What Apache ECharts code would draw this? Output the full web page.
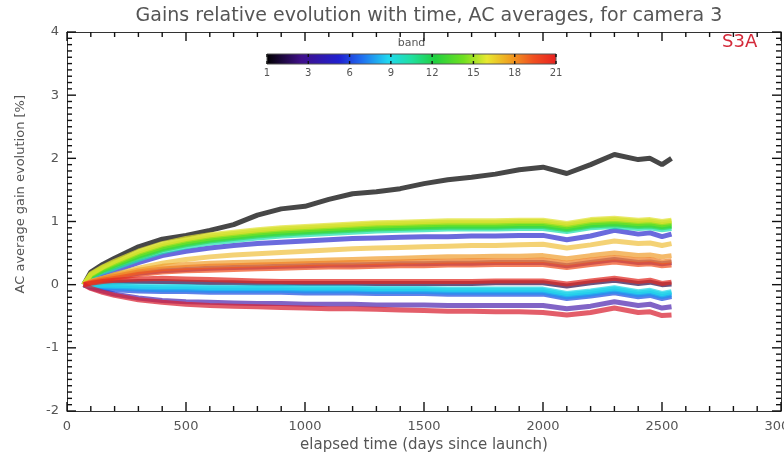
<!DOCTYPE html>
<html>
<head>
<meta charset="utf-8">
<script src="https://cdn.jsdelivr.net/npm/echarts@6/dist/echarts.min.js"></script>
<style>
  html, body { margin: 0; padding: 0; background: #fff; }
  #main { width: 784px; height: 459px; }
</style>
</head>
<body>
<div id="main"></div>
<script>
// elapsed days of the sampled points
var days = [70, 100, 150, 200, 300, 400, 500, 600, 700, 800, 900, 1000, 1100, 1200, 1300, 1400, 1500, 1600, 1700, 1800, 1900, 2000, 2100, 2200, 2300, 2400, 2450, 2500, 2540];

// gain evolution [%], one array per band
var b01 = [0, 0.2, 0.32, 0.42, 0.6, 0.72, 0.78, 0.86, 0.95, 1.1, 1.2, 1.24, 1.35, 1.44, 1.47, 1.52, 1.6, 1.66, 1.7, 1.75, 1.82, 1.86, 1.76, 1.9, 2.06, 1.98, 2.0, 1.9, 2.0];
var b02 = [0, 0.01, 0.03, 0.04, 0.05, 0.05, 0.04, 0.03, 0.03, 0.02, 0.02, 0.02, 0.02, 0.02, 0.02, 0.02, 0.02, 0.02, 0.02, 0.03, 0.03, 0.03, -0.02, 0.03, 0.07, 0.02, 0.04, 0.0, 0.01];
var b03 = [0, 0.04, 0.08, 0.12, 0.18, 0.22, 0.24, 0.26, 0.27, 0.28, 0.29, 0.3, 0.31, 0.31, 0.32, 0.33, 0.33, 0.34, 0.34, 0.35, 0.35, 0.35, 0.3, 0.35, 0.4, 0.35, 0.36, 0.33, 0.35];
var b04 = [0, -0.05, -0.1, -0.15, -0.21, -0.25, -0.27, -0.28, -0.29, -0.3, -0.3, -0.31, -0.31, -0.31, -0.32, -0.32, -0.32, -0.33, -0.33, -0.33, -0.33, -0.33, -0.38, -0.34, -0.27, -0.33, -0.31, -0.37, -0.35];
var b05 = [0, 0.06, 0.14, 0.22, 0.35, 0.46, 0.53, 0.58, 0.62, 0.65, 0.67, 0.69, 0.71, 0.73, 0.74, 0.75, 0.76, 0.76, 0.77, 0.77, 0.78, 0.78, 0.71, 0.77, 0.86, 0.8, 0.82, 0.76, 0.8];
var b06 = [0, -0.03, -0.06, -0.08, -0.1, -0.11, -0.11, -0.12, -0.12, -0.12, -0.12, -0.13, -0.13, -0.13, -0.14, -0.14, -0.14, -0.15, -0.15, -0.15, -0.15, -0.15, -0.22, -0.18, -0.13, -0.19, -0.17, -0.22, -0.19];
var b07 = [0, -0.02, -0.04, -0.05, -0.07, -0.08, -0.08, -0.09, -0.09, -0.09, -0.09, -0.1, -0.1, -0.1, -0.11, -0.11, -0.11, -0.12, -0.12, -0.12, -0.12, -0.12, -0.19, -0.15, -0.1, -0.16, -0.14, -0.19, -0.16];
var b08 = [0, -0.01, -0.02, -0.03, -0.04, -0.05, -0.05, -0.06, -0.06, -0.06, -0.06, -0.07, -0.07, -0.07, -0.08, -0.08, -0.08, -0.09, -0.09, -0.09, -0.09, -0.09, -0.16, -0.12, -0.07, -0.13, -0.11, -0.16, -0.13];
var b09 = [0, 0.0, -0.01, -0.01, -0.02, -0.03, -0.03, -0.04, -0.04, -0.04, -0.04, -0.05, -0.05, -0.05, -0.06, -0.06, -0.06, -0.07, -0.07, -0.07, -0.07, -0.07, -0.14, -0.1, -0.05, -0.11, -0.09, -0.14, -0.11];
var b10 = [0, 0.12, 0.2, 0.26, 0.4, 0.52, 0.6, 0.66, 0.7, 0.74, 0.77, 0.79, 0.81, 0.83, 0.85, 0.86, 0.87, 0.88, 0.88, 0.88, 0.89, 0.89, 0.84, 0.9, 0.92, 0.89, 0.9, 0.87, 0.89];
var b11 = [0, 0.13, 0.22, 0.29, 0.43, 0.55, 0.63, 0.69, 0.73, 0.77, 0.8, 0.82, 0.84, 0.86, 0.88, 0.89, 0.9, 0.91, 0.91, 0.91, 0.92, 0.92, 0.87, 0.93, 0.95, 0.92, 0.93, 0.9, 0.92];
var b12 = [0, 0.14, 0.23, 0.31, 0.45, 0.57, 0.65, 0.71, 0.75, 0.79, 0.82, 0.84, 0.86, 0.88, 0.9, 0.91, 0.92, 0.93, 0.93, 0.93, 0.94, 0.94, 0.89, 0.95, 0.97, 0.94, 0.95, 0.92, 0.94];
var b13 = [0, 0.15, 0.25, 0.33, 0.48, 0.6, 0.68, 0.74, 0.78, 0.82, 0.85, 0.87, 0.89, 0.91, 0.93, 0.94, 0.95, 0.96, 0.96, 0.96, 0.97, 0.97, 0.92, 0.98, 1.0, 0.97, 0.98, 0.95, 0.97];
var b14 = [0, 0.16, 0.27, 0.35, 0.51, 0.63, 0.71, 0.77, 0.81, 0.85, 0.88, 0.9, 0.92, 0.94, 0.96, 0.97, 0.98, 0.99, 0.99, 0.99, 1.0, 1.0, 0.95, 1.01, 1.03, 1.0, 1.01, 0.98, 1.0];
var b15 = [0, 0.17, 0.28, 0.37, 0.53, 0.65, 0.73, 0.79, 0.83, 0.87, 0.9, 0.92, 0.94, 0.96, 0.98, 0.99, 1.0, 1.01, 1.01, 1.01, 1.02, 1.02, 0.97, 1.03, 1.05, 1.02, 1.03, 1.0, 1.02];
var b16 = [0, 0.05, 0.1, 0.16, 0.26, 0.34, 0.4, 0.44, 0.47, 0.49, 0.51, 0.53, 0.55, 0.57, 0.58, 0.59, 0.6, 0.61, 0.62, 0.62, 0.63, 0.64, 0.58, 0.63, 0.69, 0.65, 0.66, 0.62, 0.65];
var b17 = [0, 0.05, 0.1, 0.15, 0.23, 0.29, 0.32, 0.34, 0.35, 0.36, 0.37, 0.38, 0.39, 0.4, 0.41, 0.42, 0.43, 0.44, 0.44, 0.45, 0.45, 0.46, 0.41, 0.46, 0.5, 0.46, 0.47, 0.44, 0.46];
var b18 = [0, 0.04, 0.09, 0.13, 0.2, 0.25, 0.27, 0.29, 0.3, 0.31, 0.32, 0.33, 0.34, 0.35, 0.35, 0.36, 0.37, 0.37, 0.38, 0.38, 0.38, 0.39, 0.34, 0.39, 0.43, 0.39, 0.4, 0.36, 0.38];
var b19 = [0, 0.03, 0.07, 0.1, 0.16, 0.2, 0.22, 0.23, 0.24, 0.25, 0.26, 0.27, 0.28, 0.28, 0.29, 0.3, 0.3, 0.31, 0.31, 0.32, 0.32, 0.32, 0.27, 0.32, 0.36, 0.32, 0.33, 0.3, 0.31];
var b20 = [0, 0.02, 0.05, 0.07, 0.09, 0.1, 0.09, 0.08, 0.07, 0.06, 0.05, 0.05, 0.05, 0.05, 0.05, 0.05, 0.05, 0.05, 0.05, 0.06, 0.06, 0.06, 0.01, 0.06, 0.1, 0.05, 0.07, 0.02, 0.04];
var b21 = [0, -0.06, -0.12, -0.17, -0.24, -0.28, -0.31, -0.33, -0.34, -0.35, -0.36, -0.37, -0.38, -0.38, -0.39, -0.4, -0.41, -0.42, -0.42, -0.43, -0.43, -0.44, -0.48, -0.44, -0.37, -0.44, -0.43, -0.49, -0.48];

var bands = [b01, b02, b03, b04, b05, b06, b07, b08, b09, b10, b11, b12, b13, b14, b15, b16, b17, b18, b19, b20, b21];

// colour bar tick labels
var cbLabels = ['1', '3', '6', '9', '12', '15', '18', '21'];

var bandColors = ['#000000', '#32104e', '#5a1a9a', '#5028b0', '#3030d0', '#2050e0', '#2090f0', '#20c0f0', '#20d8e8', '#20e0b0',
    '#30d860', '#40d830', '#70e020', '#b0e020', '#e0e030', '#f0c040', '#f0a030', '#f08028', '#f05020', '#e02820', '#d82030'];

var chart = echarts.init(document.getElementById('main'), null, {renderer: 'canvas'});

var textCol = '#555';
var axisCol = '#111';
var font = 'DejaVu Sans';

var series = [];
for (var i = 0; i < bands.length; i++) {
    var pts = [];
    for (var j = 0; j < days.length; j++) {
        pts.push([days[j], bands[i][j]]);
    }
    series.push({
        name: 'band ' + (i + 1),
        type: 'line',
        xAxisIndex: 0,
        yAxisIndex: 0,
        data: pts,
        showSymbol: false,
        color: bandColors[i],
        lineStyle: {width: 5, opacity: 0.72},
        z: 3
    });
}

// tick values of the box: majors every 500 days / 1 %, minors every 100 days / 0.1 %
var xTickVals = [];
for (var t = 0; t <= 3000; t += 100) xTickVals.push([t, 0]);
var yTickVals = [];
for (var k = -20; k <= 40; k++) yTickVals.push([0, k / 10]);
var cbTickVals = [];
for (var c = 0; c <= 7; c++) cbTickVals.push([c, 0.5]);

function seg(x1, y1, x2, y2) {
    return {type: 'line', shape: {x1: x1, y1: y1, x2: x2, y2: y2},
        style: {stroke: axisCol, lineWidth: 1.4, fill: null}};
}

// inward ticks on all four sides, placed through the axis scales
series.push({
    name: 'xticks', type: 'custom', coordinateSystem: 'cartesian2d',
    xAxisIndex: 0, yAxisIndex: 0, silent: true, clip: false, z: 10,
    encode: {x: 0, y: 1},
    data: xTickVals,
    renderItem: function (params, api) {
        var v = api.value(0);
        var len = v % 500 === 0 ? 9 : 5;
        var b = api.coord([v, -2]);
        var top = api.coord([v, 4]);
        return {type: 'group', children: [seg(b[0], b[1], b[0], b[1] - len), seg(top[0], top[1], top[0], top[1] + len)]};
    }
});
series.push({
    name: 'yticks', type: 'custom', coordinateSystem: 'cartesian2d',
    xAxisIndex: 0, yAxisIndex: 0, silent: true, clip: false, z: 10,
    encode: {x: 0, y: 1},
    data: yTickVals,
    renderItem: function (params, api) {
        var v = api.value(1);
        var len = Math.abs(v - Math.round(v)) < 1e-6 ? 9 : 5;
        var l = api.coord([0, v]);
        var r = api.coord([3000, v]);
        return {type: 'group', children: [seg(l[0], l[1], l[0] + len, l[1]), seg(r[0], r[1], r[0] - len, r[1])]};
    }
});
series.push({
    name: 'cbticks', type: 'custom', coordinateSystem: 'cartesian2d',
    xAxisIndex: 2, yAxisIndex: 3, silent: true, clip: false, z: 10,
    encode: {x: 0, y: 1},
    data: cbTickVals,
    renderItem: function (params, api) {
        var v = api.value(0);
        var b = api.coord([v, 0]);
        var top = api.coord([v, 1]);
        return {type: 'group', children: [seg(b[0], b[1], b[0], b[1] - 3), seg(top[0], top[1], top[0], top[1] + 3)]};
    }
});

var option = {
    animation: false,
    backgroundColor: '#fff',
    title: {
        text: 'Gains relative evolution with time, AC averages, for camera 3',
        left: 424,
        top: 2,
        textAlign: 'center',
        textStyle: {fontFamily: font, fontSize: 19, fontWeight: 'normal', color: textCol}
    },
    grid: [
        {left: 67, right: 3, top: 32, bottom: 48, show: false, outerBoundsMode: 'none', containLabel: false},
        {
            left: 267, top: 54, width: 289, height: 10, show: true, borderColor: '#555', borderWidth: 1,
            outerBoundsMode: 'none', containLabel: false,
            backgroundColor: new echarts.graphic.LinearGradient(0, 0, 1, 0, [
                {offset: 0, color: '#000000'},
                {offset: 0.12, color: '#40108a'},
                {offset: 0.25, color: '#2020d0'},
                {offset: 0.33, color: '#2070f0'},
                {offset: 0.42, color: '#20d8f0'},
                {offset: 0.5, color: '#20e0a0'},
                {offset: 0.58, color: '#20d040'},
                {offset: 0.68, color: '#70e020'},
                {offset: 0.76, color: '#e8e830'},
                {offset: 0.84, color: '#f0a020'},
                {offset: 0.92, color: '#f05020'},
                {offset: 1, color: '#e82020'}
            ])
        }
    ],
    xAxis: [
        {
            type: 'value', gridIndex: 0, min: 0, max: 3000, interval: 500,
            name: 'elapsed time (days since launch)', nameLocation: 'middle', nameGap: 24,
            nameTextStyle: {fontFamily: font, fontSize: 15, color: textCol},
            axisLine: {show: true, onZeroAxisIndex: 2, lineStyle: {color: '#333'}},
            axisTick: {show: false},
            axisLabel: {fontFamily: font, fontSize: 13, color: textCol, margin: 9,
                formatter: function (v) { return String(v); }},
            splitLine: {show: false}
        },
        {
            type: 'value', gridIndex: 0, position: 'top', min: 0, max: 3000, interval: 500,
            axisLine: {show: true, onZeroAxisIndex: 2, lineStyle: {color: '#333'}},
            axisTick: {show: false}, axisLabel: {show: false}, splitLine: {show: false}
        },
        {
            type: 'value', gridIndex: 1, min: 0, max: 7, interval: 1,
            axisLine: {show: false}, axisTick: {show: false},
            axisLabel: {
                fontFamily: font, fontSize: 10, color: textCol, margin: 4,
                formatter: function (v) { return cbLabels[Math.round(v)]; }
            },
            splitLine: {show: false}
        },
        {
            type: 'value', gridIndex: 1, position: 'top', min: 0, max: 7, interval: 1,
            name: 'band', nameLocation: 'middle', nameGap: 5,
            nameTextStyle: {fontFamily: font, fontSize: 11, color: textCol},
            axisLine: {show: false}, axisTick: {show: false}, axisLabel: {show: false}, splitLine: {show: false}
        },
        // hidden helper so the y axes stay on the box edges
        {type: 'value', gridIndex: 0, min: 1, max: 2, show: false}
    ],
    yAxis: [
        {
            type: 'value', gridIndex: 0, min: -2, max: 4, interval: 1,
            axisLine: {show: true, onZeroAxisIndex: 4, lineStyle: {color: '#333'}},
            axisTick: {show: false},
            axisLabel: {fontFamily: font, fontSize: 13, color: textCol, margin: 8},
            splitLine: {show: false}
        },
        {
            type: 'value', gridIndex: 0, position: 'right', min: -2, max: 4, interval: 1,
            axisLine: {show: true, onZeroAxisIndex: 4, lineStyle: {color: '#333'}},
            axisTick: {show: false}, axisLabel: {show: false}, splitLine: {show: false}
        },
        // hidden helper so the x axes stay on the box edges
        {type: 'value', gridIndex: 0, min: 1, max: 2, show: false},
        {type: 'value', gridIndex: 1, min: 0, max: 1, show: false}
    ],
    graphic: [
        {
            type: 'text', left: 722, top: 33,
            style: {text: 'S3A', fill: '#d42a3a', font: '18px "DejaVu Sans"'}
        },
        {
            type: 'text', left: 14, top: 95, rotation: Math.PI / 2,
            style: {text: 'AC average gain evolution [%]', fill: textCol, font: '13px "DejaVu Sans"'}
        }
    ],
    series: series
};

chart.setOption(option);
</script>
</body>
</html>
